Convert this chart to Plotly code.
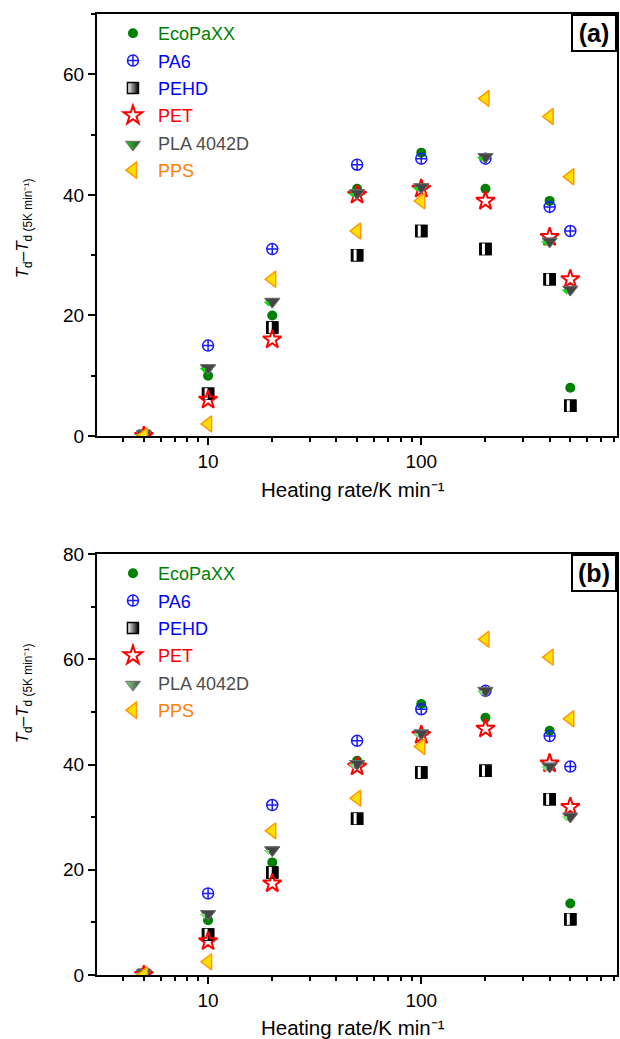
import plotly.graph_objects as go

rates = [5, 10, 20, 50, 100, 200, 400, 500]
names = ["EcoPaXX", "PA6", "PEHD", "PET", "PLA 4042D", "PPS"]

eco_a = [0, 10, 20, 41, 47, 41, 39, 8]
pa6_a = [0, 15, 31, 45, 46, 46, 38, 34]
pehd_a = [0, 7, 18, 30, 34, 31, 26, 5]
pet_a = [0, 6, 16, 40, 41, 39, 33, 26]
pla_a = [0, 11, 22, 40, 41, 46, 32, 24]
pps_a = [0, 2, 26, 34, 39, 56, 53, 43]

eco_b = [0, 10.4, 21.4, 40.7, 51.5, 48.9, 46.4, 13.6]
pa6_b = [0, 15.5, 32.3, 44.5, 50.5, 54, 45.4, 39.6]
pehd_b = [0, 7.7, 19.5, 29.7, 38.5, 38.8, 33.4, 10.6]
pet_b = [0, 6.4, 17.4, 39.6, 45.6, 46.8, 40.2, 31.9]
pla_b = [0, 11.3, 23.4, 39.8, 45.6, 53.7, 39.3, 29.8]
pps_b = [0, 2.5, 27.4, 33.6, 43.4, 63.8, 60.4, 48.7]

x_major = [10, 100]
x_minor = [3, 4, 5, 6, 7, 8, 9, 20, 30, 40, 50, 60, 70, 80, 90, 200, 300, 400, 500, 600, 700, 800]

text_colors = ["#008000", "#0000ff", "#0000ff", "#ff0000", "#4d4d4d", "#ff8000"]
FONT = "Liberation Sans, Arial, sans-serif"
PLA_GRAY = "#454545"


def pla_green(panel):
    return "#10d810" if panel == "a" else "#80df80"


def markers(panel):
    return [
        dict(symbol="circle", size=10, color="#008000", line=dict(width=0)),
        dict(symbol="circle-cross-open", size=11, color="#1a1aff", line=dict(width=1.5)),
        dict(symbol="square", size=11, color="white",
             gradient=dict(type="horizontal", color="black"),
             line=dict(color="black", width=1.5)),
        dict(symbol="star-open", size=14, color="#ff0000", line=dict(width=2)),
        # triangle-up turned 180 deg = triangle-down, nudged so its split overlay fits
        dict(symbol="triangle-up", size=13, angle=180, standoff=1.75, color=pla_green(panel),
             gradient=dict(type="horizontal", color=PLA_GRAY),
             line=dict(color="#707070", width=1)),
        dict(symbol="triangle-left", size=14, color="#ffe000",
             line=dict(color="#ff9900", width=1.5)),
    ]


fig = go.Figure()
series_a = [eco_a, pa6_a, pehd_a, pet_a, pla_a, pps_a]
series_b = [eco_b, pa6_b, pehd_b, pet_b, pla_b, pps_b]


def overlay(xa, ya, vals, grp, marker):
    fig.add_trace(go.Scatter(
        x=rates, y=vals, mode="markers", xaxis=xa, yaxis=ya, showlegend=False,
        hoverinfo="skip", legendgroup=grp, marker=marker))


for panel, series, xa, ya, lg in [("a", series_a, "x", "y", "legend"),
                                   ("b", series_b, "x2", "y2", "legend2")]:
    mk = markers(panel)
    for i, (nm, vals) in enumerate(zip(names, series)):
        grp = f"{panel}{i}"
        fig.add_trace(go.Scatter(
            x=rates, y=vals, mode="markers", xaxis=xa, yaxis=ya,
            name=f"<span style='color:{text_colors[i]}'>{nm}</span>",
            marker=mk[i], legend=lg, legendgroup=grp,
        ))
        if nm == "PEHD":
            overlay(xa, ya, vals, grp, dict(symbol="square", size=11, color="black",
                                            line=dict(color="black", width=1.5)))
            overlay(xa, ya, vals, grp, dict(symbol="line-ew", size=8, angle=90, standoff=2,
                                            line=dict(color="white", width=3)))
        if nm == "PLA 4042D":
            overlay(xa, ya, vals, grp, dict(symbol="triangle-up", size=13, angle=180,
                                            standoff=1.75, color=PLA_GRAY,
                                            line=dict(color="#707070", width=1)))
            overlay(xa, ya, vals, grp, dict(symbol="triangle-nw", size=6.25, angle=90,
                                            standoff=5.0, color=pla_green(panel),
                                            line=dict(width=0)))

L, R, T, B = 97, 1, 14, 64
W, H = 620, 1039
ph = H - T - B
dom_a = [(H - B - 436) / ph, 1.0]
dom_b = [0.0, (975 - 554) / ph]

xrange = [0.479, 2.918]
axfont = dict(family=FONT, size=19, color="black")


def xax(anchor):
    return dict(type="log", range=xrange, anchor=anchor, domain=[0, 1],
                tickmode="array", tickvals=x_major, ticktext=[str(v) for v in x_major],
                ticks="outside", ticklen=7, tickwidth=1.5, tickcolor="black",
                minor=dict(tickmode="array", tickvals=x_minor, ticks="outside",
                           ticklen=4, tickwidth=1.5, tickcolor="black"),
                showline=True, linewidth=2, linecolor="black", mirror=True,
                showgrid=False, zeroline=False, tickfont=axfont)


def yax(anchor, dom, top):
    return dict(range=[0, top], anchor=anchor, domain=dom,
                dtick=20, tick0=0, ticks="outside", ticklen=7, tickwidth=1.5,
                tickcolor="black",
                minor=dict(dtick=10, ticks="outside", ticklen=4, tickwidth=1.5,
                           tickcolor="black"),
                showline=True, linewidth=2, linecolor="black", mirror=True,
                showgrid=False, zeroline=False, tickfont=axfont)


legend_common = dict(font=dict(family=FONT, size=18),
                     bgcolor="rgba(0,0,0,0)", borderwidth=0, traceorder="grouped",
                     tracegroupgap=1, xanchor="left", yanchor="top", itemwidth=40)

ytitle = "<i>T</i><sub>d</sub>–<i>T</i><sub>d (5K min⁻¹)</sub>"
xtitle = "Heating rate/K min⁻¹"
yfont = dict(family=FONT, size=17, color="black")
xfont = dict(family=FONT, size=20.5, color="black")


def px_x(px):
    return (px - L) / (W - L - R)


def px_y(py):
    return (H - B - py) / ph


labfont = dict(family=FONT, size=25, color="black")
annotations = [
    dict(text=ytitle, textangle=-90, x=px_x(24), y=px_y(228), xref="paper", yref="paper",
         showarrow=False, font=yfont, xanchor="center", yanchor="middle"),
    dict(text=ytitle, textangle=-90, x=px_x(24), y=px_y(693), xref="paper", yref="paper",
         showarrow=False, font=yfont, xanchor="center", yanchor="middle"),
    dict(text=xtitle, x=px_x(354), y=px_y(490), xref="paper", yref="paper",
         showarrow=False, font=xfont, xanchor="center", yanchor="middle"),
    dict(text=xtitle, x=px_x(354), y=px_y(1027), xref="paper", yref="paper",
         showarrow=False, font=xfont, xanchor="center", yanchor="middle"),
    dict(text="<b>(a)</b>", x=1, y=1, xref="paper", yref="paper", showarrow=False,
         xanchor="right", yanchor="top", font=labfont,
         bordercolor="black", borderwidth=2, borderpad=0, width=42, height=34, bgcolor="white"),
    dict(text="<b>(b)</b>", x=1, y=dom_b[1], xref="paper", yref="paper", showarrow=False,
         xanchor="right", yanchor="top", font=labfont,
         bordercolor="black", borderwidth=2, borderpad=0, width=42, height=34, bgcolor="white"),
]

fig.update_layout(
    width=W, height=H, margin=dict(l=L, r=R, t=T, b=B),
    paper_bgcolor="white", plot_bgcolor="white",
    xaxis=xax("y"), yaxis=yax("x", dom_a, 70),
    xaxis2=xax("y2"), yaxis2=yax("x2", dom_b, 80),
    legend=dict(legend_common, x=px_x(108), y=px_y(15)),
    legend2=dict(legend_common, x=px_x(108), y=px_y(555)),
    annotations=annotations,
    font=dict(family=FONT),
)

fig.write_html("out.html")
